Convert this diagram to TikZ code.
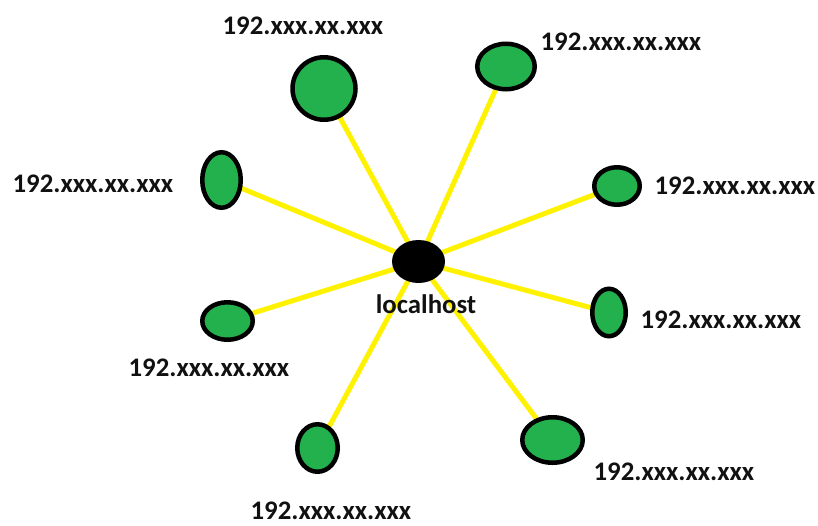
\documentclass[tikz,border=0pt]{standalone}
\usepackage{fontspec}
\setmainfont{Carlito}
\usetikzlibrary{shapes.geometric,backgrounds}
\definecolor{hostgreen}{HTML}{22B14C}
\definecolor{linkyellow}{HTML}{FFF200}
\definecolor{inkblack}{HTML}{111111}
\tikzset{
  host/.style={ellipse, draw=black, line width=4.5pt, fill=hostgreen, inner sep=0pt},
  hub/.style={ellipse, fill=black, inner sep=0pt, minimum width=53pt, minimum height=43pt},
  addr/.style={font=\fontsize{26.8}{30}\selectfont\bfseries, text=inkblack, inner sep=0pt},
  link/.style={linkyellow, line width=5pt}
}
\begin{document}
\begin{tikzpicture}[x=1pt, y=-1pt]
  \useasboundingbox (0,0) rectangle (818,525);
  % central machine
  \node[hub] (lh) at (418.5,261.5) {};
  % peers (sizes are the outer size minus the border width)
  \node[host, minimum width=63pt, minimum height=62.5pt] (h1) at (324,88.5) {};
  \node[host, minimum width=57.5pt, minimum height=45.5pt] (h2) at (506,66.5) {};
  \node[host, minimum width=38.5pt, minimum height=55.5pt] (h3) at (221.5,180) {};
  \node[host, minimum width=45.5pt, minimum height=37.5pt] (h4) at (617,186) {};
  \node[host, minimum width=50.5pt, minimum height=37.5pt] (h5) at (227.5,321) {};
  \node[host, minimum width=33.5pt, minimum height=47.5pt] (h6) at (609,312.5) {};
  \node[host, minimum width=40.5pt, minimum height=47.5pt] (h7) at (317.5,448) {};
  \node[host, minimum width=60.5pt, minimum height=45.5pt] (h8) at (552.5,440) {};
  % links run underneath the nodes
  \begin{scope}[on background layer]
    \foreach \h in {h1,h2,h3,h4,h5,h6,h7,h8}{
      \draw[link] (lh.center) -- (\h.center);
    }
  \end{scope}
  % labels
  \node[addr] (t1) at (303,26) {192.xxx.xx.xxx};
  \node[addr] (t2) at (621,42) {192.xxx.xx.xxx};
  \node[addr] (t3) at (93,184) {192.xxx.xx.xxx};
  \node[addr] (t4) at (735,186) {192.xxx.xx.xxx};
  \node[addr] (t5) at (721,320) {192.xxx.xx.xxx};
  \node[addr] (t6) at (209,368) {192.xxx.xx.xxx};
  \node[addr] (t7) at (674,472) {192.xxx.xx.xxx};
  \node[addr] (t8) at (331,511) {192.xxx.xx.xxx};
  \node[addr] (tl) at (426,304) {localhost};
\end{tikzpicture}
\end{document}
